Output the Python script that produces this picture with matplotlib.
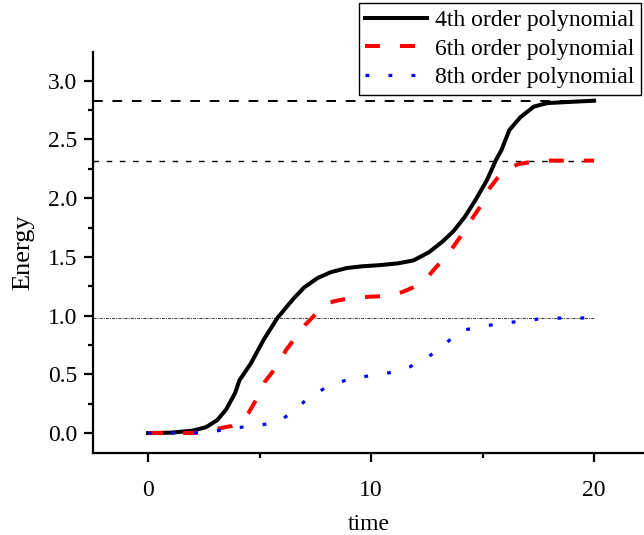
import matplotlib
matplotlib.use("Agg")
import matplotlib.pyplot as plt
from matplotlib.ticker import MultipleLocator, FormatStrFormatter

plt.rcParams['font.family'] = ['Liberation Serif', 'DejaVu Serif']

# Energy curves for three polynomial orders
t4 = [0, 1, 2, 2.6, 3.1, 3.5, 3.9, 4.1, 4.6, 5.2, 5.8, 6.5, 7.0, 7.6, 8.2, 8.9,
      9.6, 10.4, 11.2, 11.9, 12.6, 13.2, 13.7, 14.2, 14.7, 15.2, 15.6, 15.85,
      16.2, 16.7, 17.3, 17.9, 18.9, 20]
e4 = [0, 0.003, 0.02, 0.05, 0.11, 0.20, 0.34, 0.45, 0.59, 0.80, 0.98, 1.14,
      1.24, 1.32, 1.37, 1.405, 1.42, 1.43, 1.445, 1.47, 1.54, 1.63, 1.72, 1.84,
      1.99, 2.155, 2.325, 2.41, 2.58, 2.69, 2.78, 2.81, 2.82, 2.83]

t6 = [0, 1, 2, 2.6, 3.2, 3.75, 4.2, 4.5, 4.87, 5.25, 5.7, 6.2, 6.6, 7.04, 7.5,
      7.9, 8.3, 8.8, 9.3, 9.9, 10.4, 10.9, 11.4, 12.0, 12.5, 12.9, 13.3, 13.7,
      14.0, 14.3, 14.9, 15.1, 15.7, 16.15, 16.6, 17.2, 17.8, 18.9, 20]
e6 = [0, 0, 0, 0.01, 0.04, 0.06, 0.11, 0.17, 0.29, 0.44, 0.55, 0.71, 0.81,
      0.92, 1.01, 1.09, 1.12, 1.14, 1.155, 1.16, 1.165, 1.18, 1.20, 1.25, 1.32,
      1.41, 1.49, 1.59, 1.67, 1.76, 1.93, 2.03, 2.18, 2.25, 2.29, 2.31, 2.32,
      2.32, 2.32]

t8 = [0, 1, 2, 2.96, 3.97, 4.9, 5.74, 6.52, 7.04, 7.94, 8.86, 9.83, 10.8,
      11.75, 12.56, 13.3, 14.0, 15.0, 15.98, 16.86, 17.7, 18.7, 19.8]
e8 = [0, 0, 0, 0.015, 0.045, 0.065, 0.088, 0.18, 0.275, 0.385, 0.45, 0.485,
      0.513, 0.565, 0.647, 0.755, 0.87, 0.91, 0.935, 0.957, 0.975, 0.98, 0.98]

# Saturation levels
level4 = 2.83
level6 = 2.32
level8 = 0.98

labels = ["4th order polynomial", "6th order polynomial", "8th order polynomial"]

FS = 17

fig = plt.figure(figsize=(6.44, 5.35), dpi=100)
ax = fig.add_axes([93 / 644, 1 - 453 / 535, 1 - 93 / 644, (453 - 52) / 535])

xmin, xmax = -2.47, 22.24
ax.set_xlim(xmin, xmax)
ax.set_ylim(-0.17, 3.245)

ax.hlines(level4, xmin, 20, colors='black', linestyles=(0, (5, 5)), linewidth=1.4, zorder=1)
ax.hlines(level6, xmin, 20, colors='black', linestyles=(0, (4, 5.5)), linewidth=1.0, zorder=1)
ax.hlines(level8, xmin, 20, colors='#333333', linestyles=(0, (3, 1.2, 1, 1.2)), linewidth=0.7, zorder=1)

ax.plot(t4, e4, color='black', linewidth=2.9, label=labels[0], zorder=3)
ax.plot(t6, e6, color='#ff0000', linewidth=2.9, linestyle=(0, (3.7, 5.0)), label=labels[1], zorder=3)
ax.plot(t8, e8, color='#0000ff', linewidth=2.3, linestyle=(0, (1.2, 6.0)), label=labels[2], zorder=4)

for side in ('top', 'right'):
    ax.spines[side].set_visible(False)
for side in ('left', 'bottom'):
    ax.spines[side].set_linewidth(1.6)

ax.xaxis.set_major_locator(MultipleLocator(10))
ax.xaxis.set_minor_locator(MultipleLocator(5))
ax.yaxis.set_major_locator(MultipleLocator(0.5))
ax.yaxis.set_minor_locator(MultipleLocator(0.25))
ax.yaxis.set_major_formatter(FormatStrFormatter('%.1f'))
ax.tick_params(which='major', direction='out', length=6.5, width=1.6, labelsize=FS)
ax.tick_params(which='minor', direction='out', length=3.6, width=1.6)
ax.tick_params(axis='x', which='major', pad=13)
ax.tick_params(axis='y', which='major', pad=5)

ax.set_xlabel("time", fontsize=FS, labelpad=9)
ax.set_ylabel("Energy", fontsize=19, labelpad=10)

leg = ax.legend(loc='upper right', bbox_to_anchor=(641 / 644, 1 - 3 / 535),
                bbox_transform=fig.transFigure, fontsize=FS, frameon=True,
                fancybox=False, edgecolor='black', framealpha=1,
                handlelength=2.6, handletextpad=0.35, labelspacing=0.3,
                borderpad=0.28, borderaxespad=0)
leg.get_frame().set_linewidth(1.0)

fig.savefig("out.png", dpi=100)
